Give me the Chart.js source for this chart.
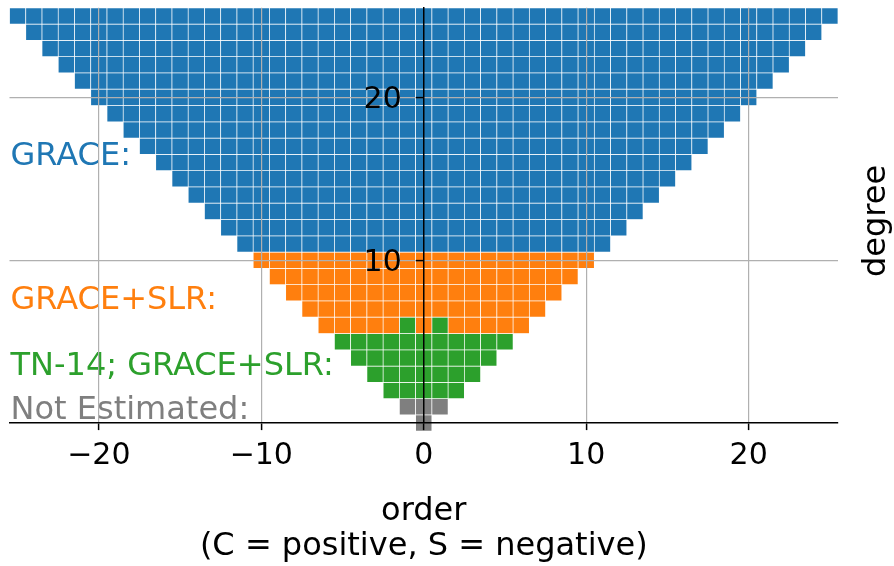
<!DOCTYPE html>
<html><head><meta charset="utf-8">
<script src="https://cdn.jsdelivr.net/npm/chart.js@4/dist/chart.umd.min.js"></script>
<style>html,body{margin:0;padding:0;background:#fff;overflow:hidden}#wrap{width:894px;height:566px}</style>
</head><body><div id="wrap"><canvas id="c" width="894" height="566"></canvas></div>
<script>
// ---------- data ----------
const degrees = [0,1,2,3,4,5,6,7,8,9,10,11,12,13,14,15,16,17,18,19,20,21,22,23,24,25];
// source of the coefficients of each degree row (orders -n..n)
const rowSource = ['NE','NE','TN','TN','TN','TN','SLR','SLR','SLR','SLR','SLR',
  'GRACE','GRACE','GRACE','GRACE','GRACE','GRACE','GRACE','GRACE','GRACE','GRACE',
  'GRACE','GRACE','GRACE','GRACE','GRACE'];
// single cells whose source differs from their row
const exceptions = [{n:6, m:-1, src:'TN'}, {n:6, m:1, src:'TN'}];
const sourceKeys = ['GRACE','SLR','TN','NE'];
const sourceLabels = ['GRACE:','GRACE+SLR:','TN-14; GRACE+SLR:','Not Estimated:'];
const xTicks = [-20,-10,0,10,20];
const yTicks = [10,20];
const xTitle = ['order','(C = positive, S = negative)'];
const yTitle = 'degree';

// ---------- styles ----------
const sourceColors = ['#1f77b4','#ff7f0e','#2ca02c','#7f7f7f'];
const FONT = "'DejaVu Sans', sans-serif";
const labelPos = [15.84, 6.99, 2.93, 0.27]; // text baselines, in degree units

const cells = {GRACE:[], SLR:[], TN:[], NE:[]};
degrees.forEach(n => {
  for (let m = -n; m <= n; m++) {
    let src = rowSource[n];
    const ex = exceptions.find(e => e.n === n && e.m === m);
    if (ex) src = ex.src;
    cells[src].push({x: m, y: [n - 0.5, n + 0.5]});
  }
});

const textPlugin = {
  id: 'texts',
  beforeDatasetsDraw(chart) {
    const {ctx, scales: {x, y}} = chart;
    ctx.save();
    ctx.font = '32px ' + FONT;
    ctx.textAlign = 'left';
    ctx.textBaseline = 'alphabetic';
    sourceLabels.forEach((t, i) => {
      ctx.fillStyle = sourceColors[i];
      ctx.fillText(t, x.getPixelForValue(-25.5) + 1, y.getPixelForValue(labelPos[i]));
    });
    ctx.restore();
  },
  afterDraw(chart) {
    const {ctx, chartArea} = chart;
    ctx.save();
    ctx.font = '32px ' + FONT;
    ctx.fillStyle = '#000';
    ctx.translate(chartArea.right + 39, 221);
    ctx.rotate(-Math.PI / 2);
    ctx.textAlign = 'center';
    ctx.textBaseline = 'middle';
    ctx.fillText(yTitle, 0, 0);
    ctx.restore();
  }
};

new Chart(document.getElementById('c'), {
  type: 'bar',
  data: {
    datasets: sourceKeys.map((k, i) => ({
      label: sourceLabels[i],
      data: cells[k],
      backgroundColor: sourceColors[i],
      borderColor: '#ffffff',
      borderWidth: 0.7,
      borderSkipped: false,
      clip: false,
      grouped: false,
      barPercentage: 1,
      categoryPercentage: 1
    }))
  },
  options: {
    responsive: false,
    animation: false,
    devicePixelRatio: 1,
    layout: {padding: {left: 9.5, right: 56, top: 7.8, bottom: 0}},
    plugins: {legend: {display: false}, tooltip: {enabled: false}},
    scales: {
      x: {
        type: 'linear', min: -25.5, max: 25.5, offset: false,
        afterBuildTicks: s => { s.ticks = xTicks.map(v => ({value: v})); },
        ticks: {font: {family: FONT, size: 30}, color: '#000', padding: 8, maxRotation: 0,
          autoSkip: false, z: 2, callback: v => String(v).replace('-', '\u2212')},
        grid: {offset: false, z: 1, lineWidth: 1.2, tickLength: 7, tickWidth: 1.5, tickColor: '#000',
          color: c => (c.tick && c.tick.value === 0) ? 'rgba(0,0,0,0)' : '#b0b0b0'},
        border: {display: true, color: '#000', width: 1.5, z: 2},
        title: {display: true, text: xTitle, color: '#000',
          font: {family: FONT, size: 32, lineHeight: 1.1}, padding: {top: 11.5, bottom: 2}}
      },
      y: {
        type: 'linear', min: 0, max: 25.5, position: 'center',
        afterBuildTicks: s => { s.ticks = yTicks.map(v => ({value: v})); },
        afterFit: s => { s.paddingTop = 0; s.paddingBottom = 0; },
        ticks: {font: {family: FONT, size: 30}, color: '#000', padding: 15, labelOffset: 3, z: 2},
        grid: {z: 1, lineWidth: 1.2, color: '#b0b0b0', tickLength: 7, tickWidth: 1.5, tickColor: '#000'},
        border: {display: true, color: '#000', width: 1.5, z: 2}
      }
    }
  },
  plugins: [textPlugin]
});
</script></body></html>
